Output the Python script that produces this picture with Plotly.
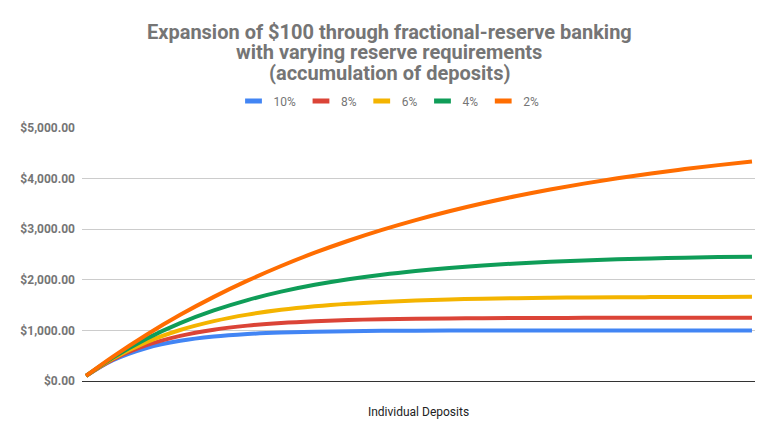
"""
Expansion of $100 through fractional-reserve banking
(accumulated deposits for several reserve requirements)
"""
import plotly.graph_objects as go

# Deposit number (sampled every 5 deposits)
DEPOSITS = [1, 5, 10, 15, 20, 25, 30, 35, 40, 45, 50,
            55, 60, 65, 70, 75, 80, 85, 90, 95, 100]

# Accumulated deposits ($) per reserve requirement
R10 = [100.0, 409.5, 651.3, 794.1, 878.4, 928.2, 957.6, 975.0, 985.2, 991.3, 994.8,
       997.0, 998.2, 998.9, 999.4, 999.6, 999.8, 999.9, 999.9, 1000.0, 1000.0]
R8 = [100.0, 426.2, 707.0, 892.1, 1014.1, 1094.5, 1147.5, 1182.5, 1205.5, 1220.7, 1230.7,
      1237.3, 1241.6, 1244.5, 1246.4, 1247.6, 1248.4, 1249.0, 1249.3, 1249.5, 1249.7]
R6 = [100.0, 443.5, 769.0, 1007.9, 1183.1, 1311.8, 1406.2, 1475.5, 1526.4, 1563.7, 1591.1,
      1611.2, 1626.0, 1636.8, 1644.7, 1650.6, 1654.9, 1658.0, 1660.3, 1662.0, 1663.2]
R4 = [100.0, 461.6, 837.9, 1144.8, 1395.0, 1599.0, 1765.4, 1901.0, 2011.6, 2101.8, 2175.3,
      2235.2, 2284.1, 2324.0, 2356.5, 2383.0, 2404.6, 2422.2, 2436.6, 2448.3, 2457.8]
R2 = [100.0, 480.4, 914.6, 1307.1, 1662.0, 1982.7, 2272.6, 2534.7, 2771.5, 2985.6, 3179.2,
      3354.1, 3512.2, 3655.2, 3784.4, 3901.2, 4006.8, 4102.2, 4188.5, 4266.4, 4336.9]

SERIES = [
    ('10%', R10, '#4285F4'),
    ('8%', R8, '#DB4437'),
    ('6%', R6, '#F4B400'),
    ('4%', R4, '#0F9D58'),
    ('2%', R2, '#FF6D01'),
]

TITLE_LINES = [
    'Expansion of $100 through fractional-reserve banking',
    'with varying reserve requirements',
    '(accumulation of deposits)',
]

FONT = 'Roboto'
GREY = '#757575'
W, H = 777, 443
# the page puts the plot 8px in from the top-left corner
OFF = 8
PLOT_L, PLOT_R, PLOT_T, PLOT_B = 82, 755, 128, 381
PLOT_W, PLOT_H = PLOT_R - PLOT_L, PLOT_B - PLOT_T
CENTER_X = (389 - PLOT_L) / PLOT_W

fig = go.Figure()

# curves drawn in order so orange ends up on top
for name, values, color in SERIES:
    fig.add_trace(go.Scatter(
        x=DEPOSITS, y=values, name=name, mode='lines',
        line=dict(color=color, width=4, shape='spline'),
        showlegend=False,
        hovertemplate='%{y:$,.2f}<extra>' + name + '</extra>'
    ))

# legend entries with short bar symbols
for name, values, color in SERIES:
    fig.add_trace(go.Scatter(
        x=[None], y=[None], name=name, mode='markers',
        marker=dict(symbol='line-ew', size=12, line=dict(color=color, width=5)),
        showlegend=True
    ))

# title as three tightly spaced lines (google-sheets look)
for i, line in enumerate(TITLE_LINES):
    fig.add_annotation(
        text='<b>' + line + '</b>', showarrow=False,
        xref='paper', yref='paper', x=CENTER_X, xanchor='center',
        y=1 + (PLOT_T - (32 + 20.5 * i)) / PLOT_H, yanchor='middle',
        font=dict(family=FONT, size=20, color=GREY),
    )

fig.update_layout(
    width=W,
    height=H,
    margin=dict(l=PLOT_L - OFF, r=W - PLOT_R + OFF, t=PLOT_T - OFF, b=H - PLOT_B + OFF,
                autoexpand=False),
    paper_bgcolor='white',
    plot_bgcolor='white',
    font=dict(family=FONT, color=GREY),
    legend=dict(
        orientation='h', x=CENTER_X, xanchor='center',
        y=1 + (PLOT_T - 101) / PLOT_H, yanchor='middle',
        font=dict(family=FONT, size=12, color=GREY),
        itemwidth=30, tracegroupgap=0,
    ),
    xaxis=dict(
        range=[0.4, 100.45],
        showticklabels=False, showgrid=False, zeroline=False, ticks='',
        showline=True, linecolor='#333333', linewidth=1,
        title=dict(text='Individual Deposits', standoff=26,
                   font=dict(family=FONT, size=12, color='#222222')),
    ),
    yaxis=dict(
        range=[0, 5000], dtick=1000, tickformat='$,.2f',
        showgrid=True, gridcolor='#cccccc', gridwidth=1, zeroline=False,
        ticks='', ticklabelstandoff=6,
        tickfont=dict(family=FONT, size=12, color=GREY, weight='bold'),
    ),
)

fig.write_html("out.html")
